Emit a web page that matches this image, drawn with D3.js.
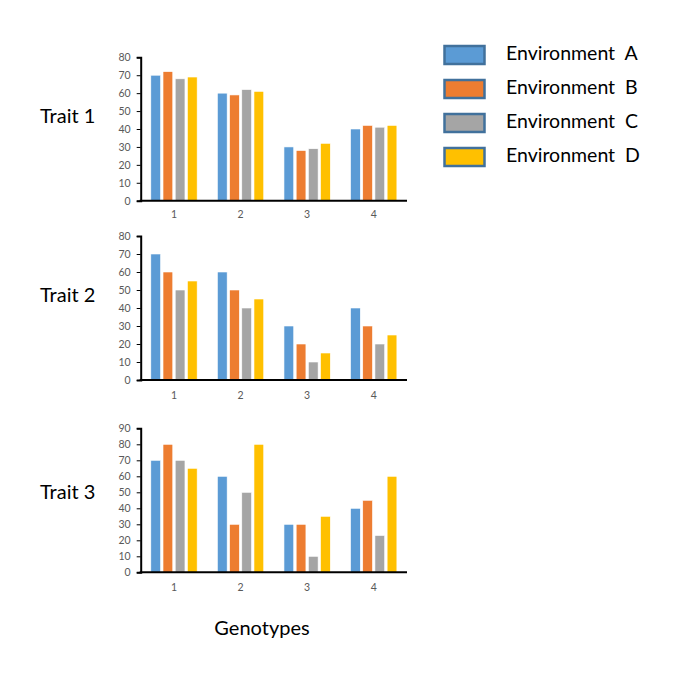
<!DOCTYPE html>
<html><head><meta charset="utf-8">
<script src="https://cdn.jsdelivr.net/npm/d3@7"></script>
<style>body{margin:0;background:#fff}svg{display:block}</style>
</head><body>
<script>
const genotypes = ["1","2","3","4"];
const environments = ["Environment  A","Environment  B","Environment  C","Environment  D"];
const colors = ["#5B9BD5","#ED7D31","#A5A5A5","#FFC000"];
const traitNames = ["Trait 1","Trait 2","Trait 3"];
// values per environment (A,B,C,D) for genotypes 1..4
const trait1 = [[70,60,30,40],[72,59,28,42],[68,62,29,41],[69,61,32,42]];
const trait2 = [[70,60,30,40],[60,50,20,30],[50,40,10,20],[55,45,15,25]];
const trait3 = [[70,60,30,40],[80,30,30,45],[70,50,10,23],[65,80,35,60]];
const yTicks1 = [0,10,20,30,40,50,60,70,80];
const yTicks3 = [0,10,20,30,40,50,60,70,80,90];

const svg = d3.select("body").append("svg").attr("width",681).attr("height",683);
const font = "Lato, 'Open Sans', sans-serif";

const panels = [
  {data:trait1, top:57.3, bottom:200.7, ticks:yTicks1, max:80, label:traitNames[0], ly:118, xly:215},
  {data:trait2, top:236, bottom:380, ticks:yTicks1, max:80, label:traitNames[1], ly:297, xly:396},
  {data:trait3, top:428.3, bottom:572.3, ticks:yTicks3, max:90, label:traitNames[2], ly:494, xly:588}
];
const left = 140.7, right = 407;

panels.forEach(p => {
  const g = svg.append("g");
  const x0 = d3.scaleBand().domain(genotypes).range([left,right]).padding(0);
  const x1 = d3.scaleBand().domain(environments).range([0,x0.bandwidth()]).paddingInner(0.2).paddingOuter(0.83);
  const y = d3.scaleLinear().domain([0,p.max]).range([p.bottom,p.top]);

  environments.forEach((e,ei) => {
    g.selectAll(null).data(p.data[ei]).enter().append("rect")
      .attr("x",(d,i)=>x0(genotypes[i])+x1(e))
      .attr("y",d=>y(d))
      .attr("width",x1.bandwidth())
      .attr("height",d=>y(0)-y(d))
      .attr("fill",colors[ei])
      .attr("stroke","#fff").attr("stroke-width",0.6);
  });

  const ya = g.append("g").attr("transform",`translate(${left},0)`)
    .call(d3.axisLeft(y).tickValues(p.ticks).tickSize(4).tickPadding(6));
  ya.select(".domain").attr("stroke","#000").attr("stroke-width",2);
  ya.selectAll(".tick line").attr("stroke","#000").attr("stroke-width",1);
  ya.selectAll("text").attr("fill","#595959").attr("font-size",10.5).attr("font-family",font);

  g.append("line").attr("x1",left-1).attr("x2",right).attr("y1",p.bottom).attr("y2",p.bottom)
    .attr("stroke","#000").attr("stroke-width",2);

  g.selectAll(null).data(genotypes).enter().append("text")
    .attr("x",d=>x0(d)+x0.bandwidth()/2).attr("y",p.xly)
    .attr("text-anchor","middle").attr("dominant-baseline","middle")
    .attr("font-size",10.5).attr("fill","#595959").attr("font-family",font).text(d=>d);

  svg.append("text").attr("x",40).attr("y",p.ly).attr("dominant-baseline","middle")
    .attr("font-size",20).attr("font-family",font).attr("fill","#000").text(p.label);
});

svg.append("text").attr("x",262).attr("y",630).attr("text-anchor","middle").attr("dominant-baseline","middle")
  .attr("font-size",20).attr("font-family",font).text("Genotypes");

const lg = svg.append("g");
environments.forEach((e,i) => {
  const yy = 55 + i*34;
  lg.append("rect").attr("x",444.5).attr("y",yy-9).attr("width",40).attr("height",18)
    .attr("fill",colors[i]).attr("stroke","#41719C").attr("stroke-width",2.5);
  lg.append("text").attr("x",506).attr("y",yy).attr("dominant-baseline","middle")
    .attr("font-size",19.5).attr("font-family",font).style("white-space","pre").text(e);
});
</script>
</body></html>
